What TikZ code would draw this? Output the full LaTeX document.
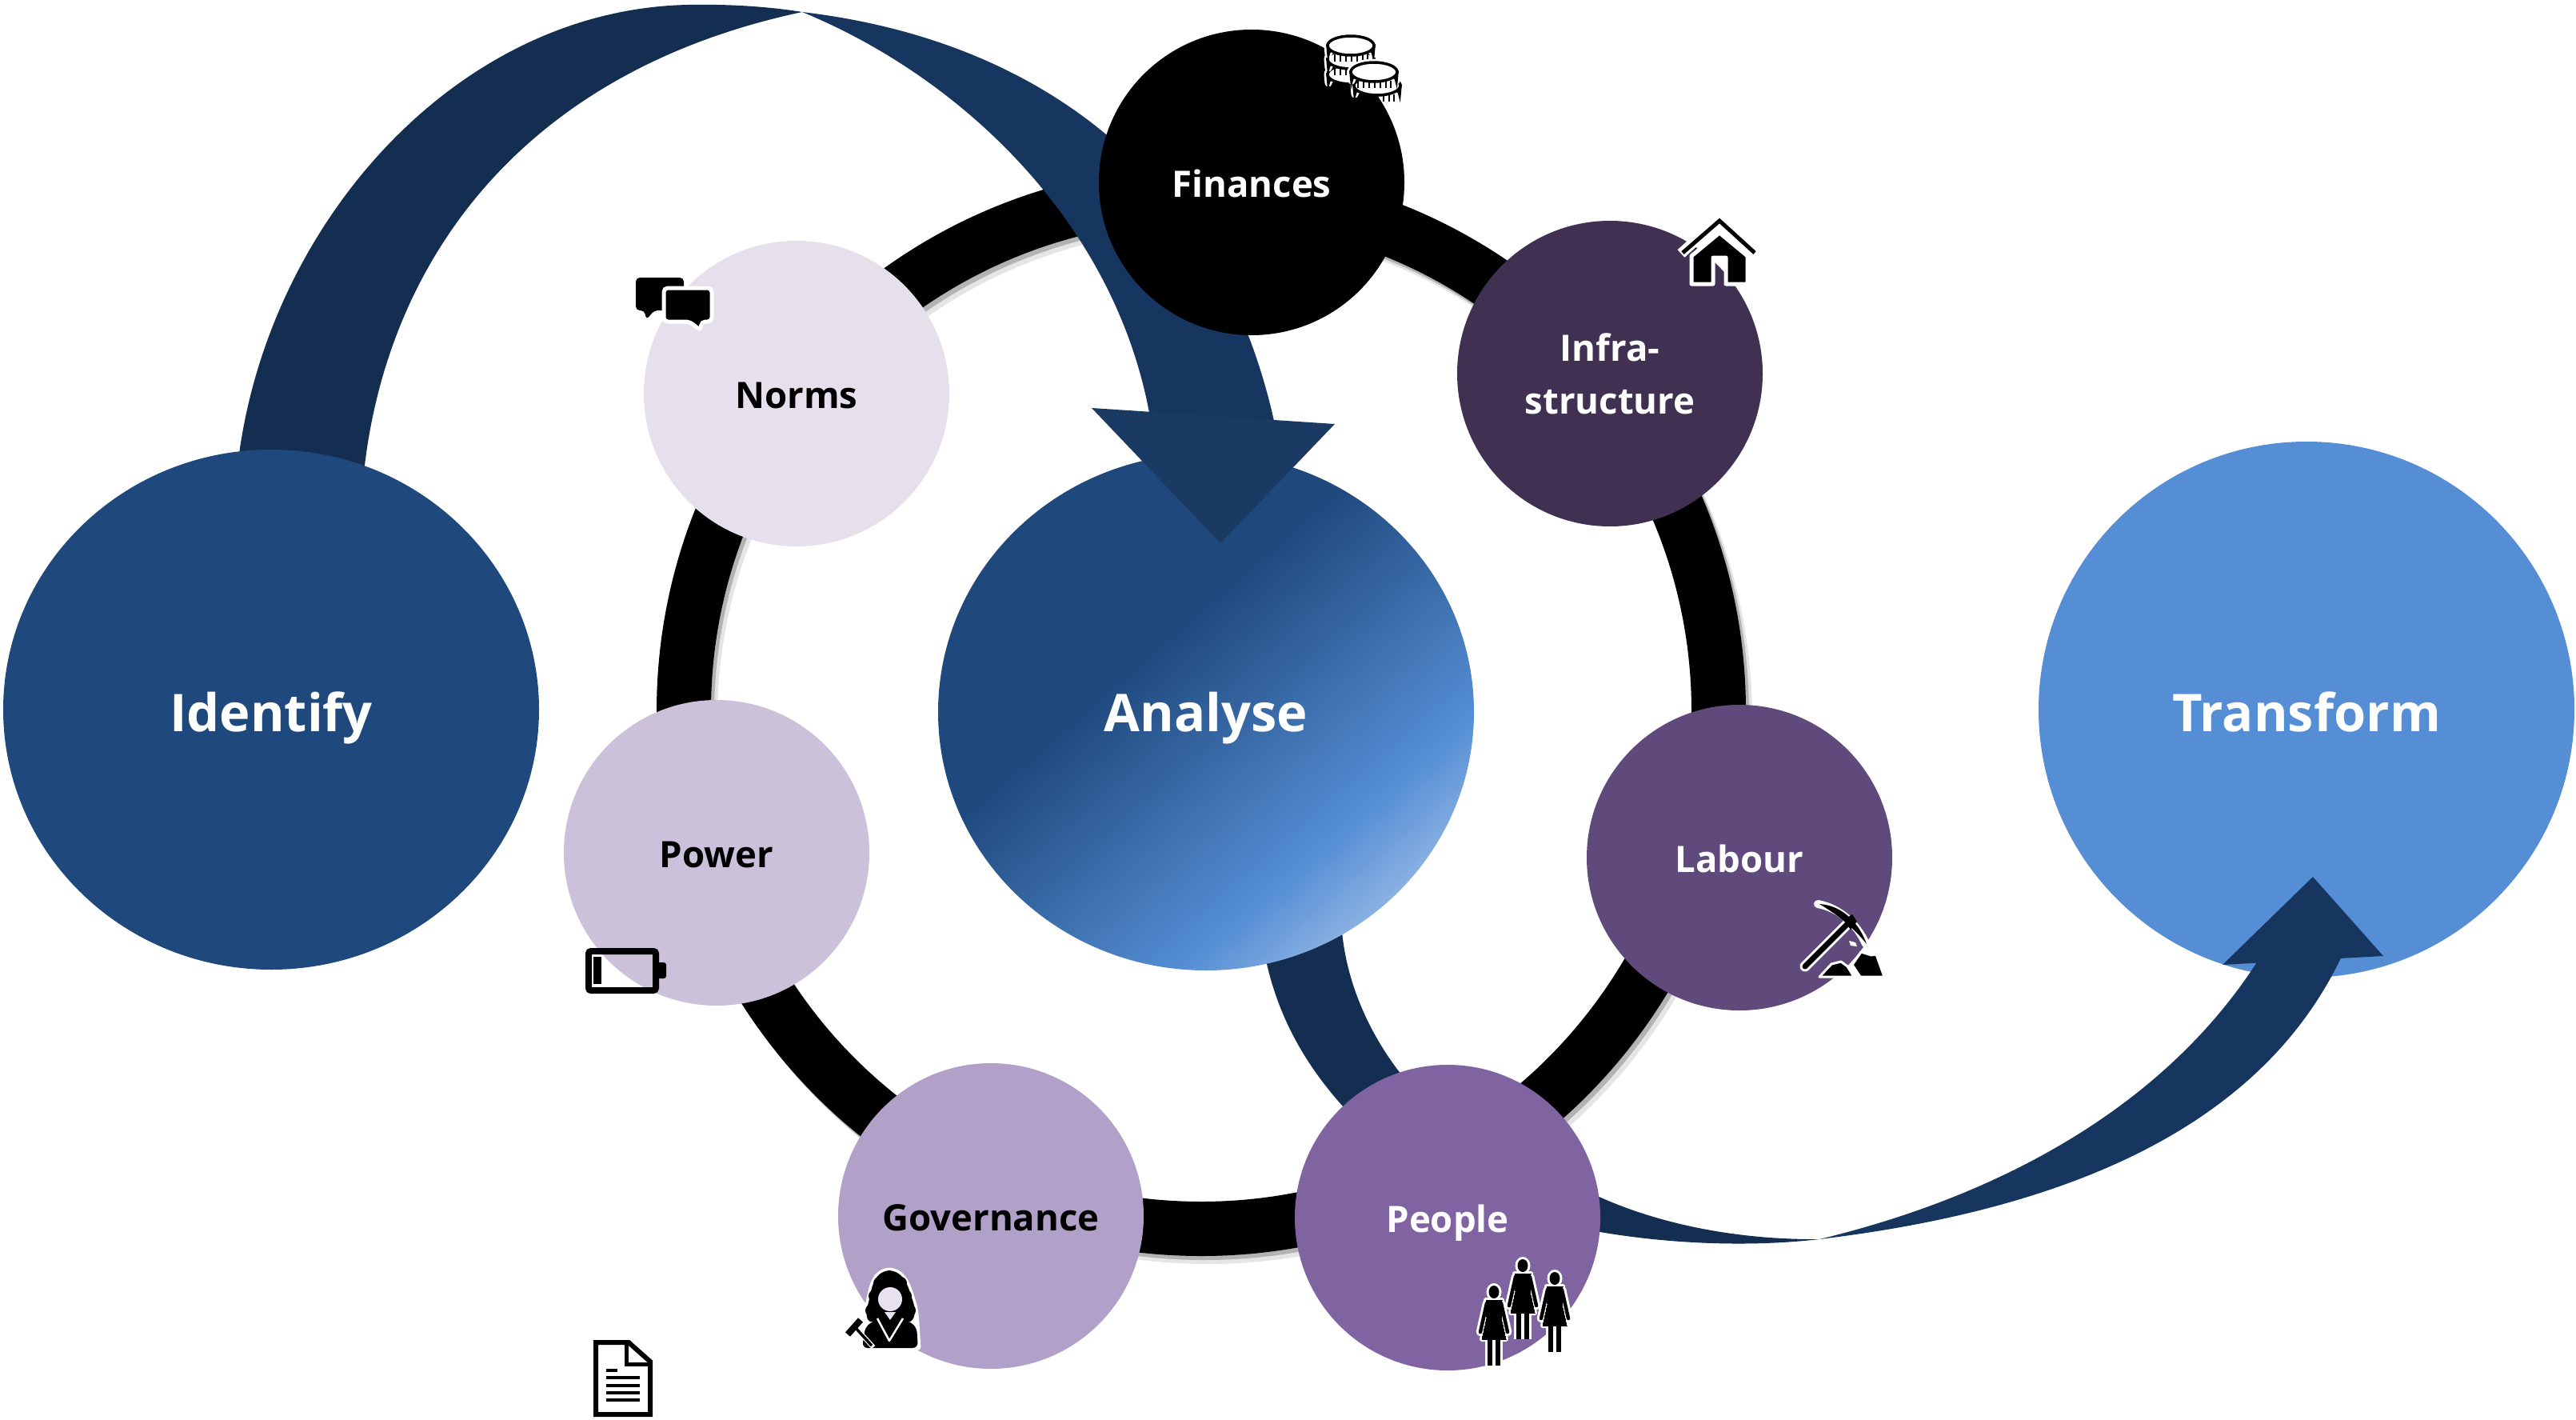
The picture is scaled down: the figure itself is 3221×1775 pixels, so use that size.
\documentclass[tikz,border=0pt]{standalone}
\usepackage{fontspec}
\setmainfont{Open Sans}
\usetikzlibrary{shapes.geometric,calc}
\definecolor{ribA}{HTML}{132E50}
\definecolor{ribB}{HTML}{17365F}
\definecolor{ribH}{HTML}{1A3A64}
\definecolor{cIdent}{HTML}{1F497D}
\definecolor{cTrans}{HTML}{558ED5}
\definecolor{cFin}{HTML}{000000}
\definecolor{cInf}{HTML}{403152}
\definecolor{cLab}{HTML}{604A7B}
\definecolor{cPeo}{HTML}{8064A2}
\definecolor{cGov}{HTML}{B1A0C7}
\definecolor{cPow}{HTML}{CCC1DA}
\definecolor{cNor}{HTML}{E6E0EC}
\pgfdeclareverticalshading{anashade}{100bp}{
  color(0bp)=(cIdent); color(42bp)=(cIdent); color(67bp)=(cTrans); color(81bp)=(cTrans!45!white); color(100bp)=(cTrans!45!white)}
\tikzset{
  big/.style={ellipse,inner sep=0pt,minimum width=670pt,minimum height=650pt,text=white,text height=55pt,text depth=0pt,font=\fontsize{65}{75}\selectfont\bfseries},
  small/.style={circle,inner sep=0pt,minimum size=382pt,align=center,font=\fontsize{45.5}{66}\selectfont\bfseries},
  oneline/.style={text height=37pt,text depth=0pt},
  ringline/.style={line width=68pt},
  halo/.style={draw=white,line width=7pt,line join=round,line cap=round},
  ink/.style={fill=black,draw=none}
}
% one coin: centre of its top face at (#1,#2)
\newcommand\iccoin[2]{
  \begin{scope}[shift={(#1,#2)}]
    \path[fill=white,draw=white,line width=9pt,line join=round] (-29,0) -- (-28,11) arc[x radius=28,y radius=11,start angle=180,end angle=360] -- (29,0) arc[x radius=29,y radius=12,start angle=0,end angle=-180] -- cycle;
    \draw[fill=white,draw=black,line width=3.5pt] (-29,0) -- (-28,11) arc[x radius=28,y radius=11,start angle=180,end angle=360] -- (29,0) -- cycle;
    \foreach \tx in {-20,-13,-6,1,8,15,21} \draw[black,line width=2.6pt] (\tx,11) -- (\tx,20);
    \draw[fill=white,draw=black,line width=3.5pt] (0,0) ellipse[x radius=29,y radius=12];
  \end{scope}}
\newcommand\icperson[3]{
  \begin{scope}[shift={(#1,#2)},scale=#3]
    \foreach \cw/\ex in {white/6,black/0}{
      \fill[\cw] (0,8) ellipse[x radius={6.5+\ex/2},y radius={8+\ex/2}];
      \draw[\cw,line width={(4.5+\ex)*1pt},line cap=round] (-9,22) -- (-17,58);
      \draw[\cw,line width={(4.5+\ex)*1pt},line cap=round] (9,22) -- (17,58);
      \draw[\cw,line width={(5.5+\ex)*1pt}] (-5,65) -- (-5,100);
      \draw[\cw,line width={(5.5+\ex)*1pt}] (5,65) -- (5,100);
      \path[fill=\cw,draw=\cw,line width={\ex*1pt},line join=round] (-10,18) -- (10,18) -- (9,40) -- (15,67) -- (-15,67) -- (-9,40) -- cycle;
    }
  \end{scope}}
\begin{document}
\begin{tikzpicture}[x=1pt,y=-1pt]
\useasboundingbox (0,0) rectangle (3221,1775);
\coordinate (ringc) at (1502,889);
% ring with its soft shadow
\draw[ringline,black!100,opacity=.10] ($(ringc)+(8,10)$) circle[radius=647];
\draw[ringline,black!100,opacity=.22] ($(ringc)+(4,5)$) circle[radius=647];
\draw[ringline,black] (ringc) circle[radius=647];
% identify -> analyse ribbon
\coordinate (ribtop) at (1003,15);
\fill[ribA] (298,575) .. controls (335,280) and (570,12) .. (860,6) .. controls (910,5) and (960,8) .. (ribtop)
  .. controls (650,90) and (480,330) .. (454,600) -- cycle;
\fill[ribB] (ribtop) .. controls (1300,50) and (1530,220) .. (1596,540)
  -- (1441,540) .. controls (1405,290) and (1210,100) .. (ribtop) -- cycle;
% analyse -> transform ribbon, behind Analyse and People
\coordinate (ribtw) at (2275,1549);
\fill[ribA] (1575,1150) .. controls (1585,1250) and (1625,1330) .. (1700,1405)
  -- (1775,1370) .. controls (1710,1300) and (1680,1220) .. (1677,1150) -- cycle;
\fill[ribA] (1950,1470) .. controls (2040,1525) and (2160,1550) .. (ribtw)
  .. controls (2180,1560) and (2060,1555) .. (1950,1530) -- cycle;
% main circles
\node[big,fill=cIdent] (identify) at (339,887) {Identify};
\path[shade,shading=anashade,shading angle=221] (1508,890) ellipse[x radius=335,y radius=323];
\node[big,draw=none] (analyse) at (1508,887) {Analyse};
\node[big,fill=cTrans,minimum height=670pt] (transform) at (2884,887) {Transform};
\fill[ribB] (ribtw) .. controls (2600,1510) and (2840,1400) .. (2935,1180)
  -- (2830,1190) .. controls (2720,1370) and (2520,1490) .. (ribtw) -- cycle;
% ring nodes
\node[small,oneline,fill=cFin,text=white] (finances) at (1565,228) {Finances};
\node[small,fill=cInf,text=white] (infra) at (2013,467) {Infra-\\structure};
\node[small,oneline,fill=cLab,text=white] (labour) at (2175,1072) {Labour};
\node[small,oneline,fill=cPeo,text=white] (people) at (1810,1522) {People};
\node[small,oneline,fill=cGov,text=black] (governance) at (1239,1520) {Governance};
\node[small,oneline,fill=cPow,text=black] (power) at (896,1066) {Power};
\node[small,oneline,fill=cNor,text=black] (norms) at (996,492) {Norms};
% arrow heads
\coordinate (tipA) at (1526,679);
\coordinate (tipB) at (2892,1096);
\fill[ribH] (1365,510) -- (1669,530) -- (tipA) -- cycle;
\fill[ribB] (2779,1206) -- (2980,1195) -- (tipB) -- cycle;
% coins
\iccoin{1689}{93}
\iccoin{1689}{74}
\iccoin{1689}{57}
\iccoin{1722}{107}
\iccoin{1718}{90}
% house
\draw[white,line width=13pt,line join=miter] (2102,317) -- (2150,273) -- (2196,317);
\draw[black,line width=5pt,line join=miter] (2104,316) -- (2150,276) -- (2194,316);
\draw[halo,line width=5pt,fill=black,even odd rule] (2150,291) -- (2185,320) -- (2185,355) -- (2158,355) -- (2158,322) -- (2142,322) -- (2142,355) -- (2115,355) -- (2115,320) -- cycle;
% speech bubbles
\fill[black,rounded corners=5pt] (795,347) -- (855,347) -- (855,388) -- (818,388) -- (808,400) -- (806,388) -- (795,388) -- cycle;
\draw[white,line width=5pt,fill=black,rounded corners=5pt] (830,360) -- (890,360) -- (890,402) -- (877,402) -- (876,413) -- (862,402) -- (830,402) -- cycle;
% pickaxe and rocks
\draw[white,line width=13pt,line cap=round] (2257,1208) -- (2313,1152);
\draw[white,line width=10pt,line cap=round,line join=round] (2273,1130) .. controls (2300,1135) and (2322,1155) .. (2333,1180);
\draw[black,line width=7pt,line cap=round] (2257,1208) -- (2313,1152);
\fill[black] (2275,1130) .. controls (2305,1132) and (2325,1155) .. (2334,1180) .. controls (2318,1160) and (2300,1145) .. (2275,1130) -- cycle;
\fill[black] (2305,1150) -- (2316,1143) -- (2322,1152) -- (2314,1162) -- cycle;
\draw[white,line width=3pt,fill=black,line join=round] (2275,1221) -- (2290,1205) -- (2302,1202) -- (2310,1208) -- (2318,1221) -- cycle;
\draw[white,line width=3pt,fill=black,line join=round] (2316,1206) -- (2327,1190) -- (2340,1194) -- (2346,1193) -- (2356,1221) -- (2326,1221) -- cycle;
\fill[white] (2312,1176) -- (2320,1178) -- (2322,1183) -- (2314,1182) -- cycle;
% battery
\draw[black,line width=8pt,rounded corners=3pt] (736,1189) rectangle (820,1238);
\fill[black] (742,1196) rectangle (752,1230);
\fill[black,rounded corners=3pt] (820,1203) rectangle (833,1223);
% document
\draw[black,line width=6pt,line join=miter] (786,1678) -- (745,1678) -- (745,1768) -- (813,1768) -- (813,1702) -- cycle;
\draw[black,line width=5pt] (783,1678) -- (783,1705) -- (813,1705);
\draw[black,line width=3.5pt] (758,1713) -- (772,1713);
\foreach \ly in {1722,1732,1741,1750} \draw[black,line width=3.5pt] (758,\ly) -- (800,\ly);
% judge
\begin{scope}
  \path[fill=white,draw=white,line width=7pt,line join=round] (1112,1588) .. controls (1132,1590) and (1136,1610) .. (1142,1628) .. controls (1146,1640) and (1146,1660) .. (1148,1684)
     -- (1078,1684) .. controls (1080,1660) and (1082,1640) .. (1086,1628) .. controls (1090,1610) and (1092,1590) .. (1112,1588) -- cycle;
  \path[fill=black] (1112,1588) .. controls (1132,1590) and (1136,1610) .. (1142,1628) .. controls (1146,1640) and (1143,1650) .. (1138,1652)
     -- (1088,1652) .. controls (1083,1650) and (1082,1640) .. (1086,1628) .. controls (1090,1610) and (1092,1590) .. (1112,1588) -- cycle;
  \foreach \hx/\hy in {1100/1604,1126/1604,1094/1620,1132/1620,1090/1638,1137/1638} \fill[black] (\hx,\hy) circle[radius=8];
  \fill[black,rounded corners=7pt] (1078,1685) -- (1082,1658) -- (1098,1648) -- (1130,1648) -- (1146,1658) -- (1148,1685) -- cycle;
  \fill[cGov!30!white] (1113,1624) ellipse[x radius=15,y radius=15];
  \fill[cGov!30!white] (1106,1640) -- (1120,1640) -- (1113,1650) -- cycle;
  \draw[white,line width=2.5pt,line join=round] (1097,1648) -- (1112,1676) -- (1129,1648);
  \draw[white,line width=6pt] (1070,1660) -- (1092,1684);
  \draw[black,line width=3.5pt] (1070,1660) -- (1090,1682);
  \draw[black,line width=8pt] (1060,1668) -- (1076,1650);
\end{scope}
% family
\icperson{1904}{1574}{1.0}
\icperson{1944}{1590}{1.0}
\icperson{1868}{1607}{1.0}
\end{tikzpicture}
\end{document}
